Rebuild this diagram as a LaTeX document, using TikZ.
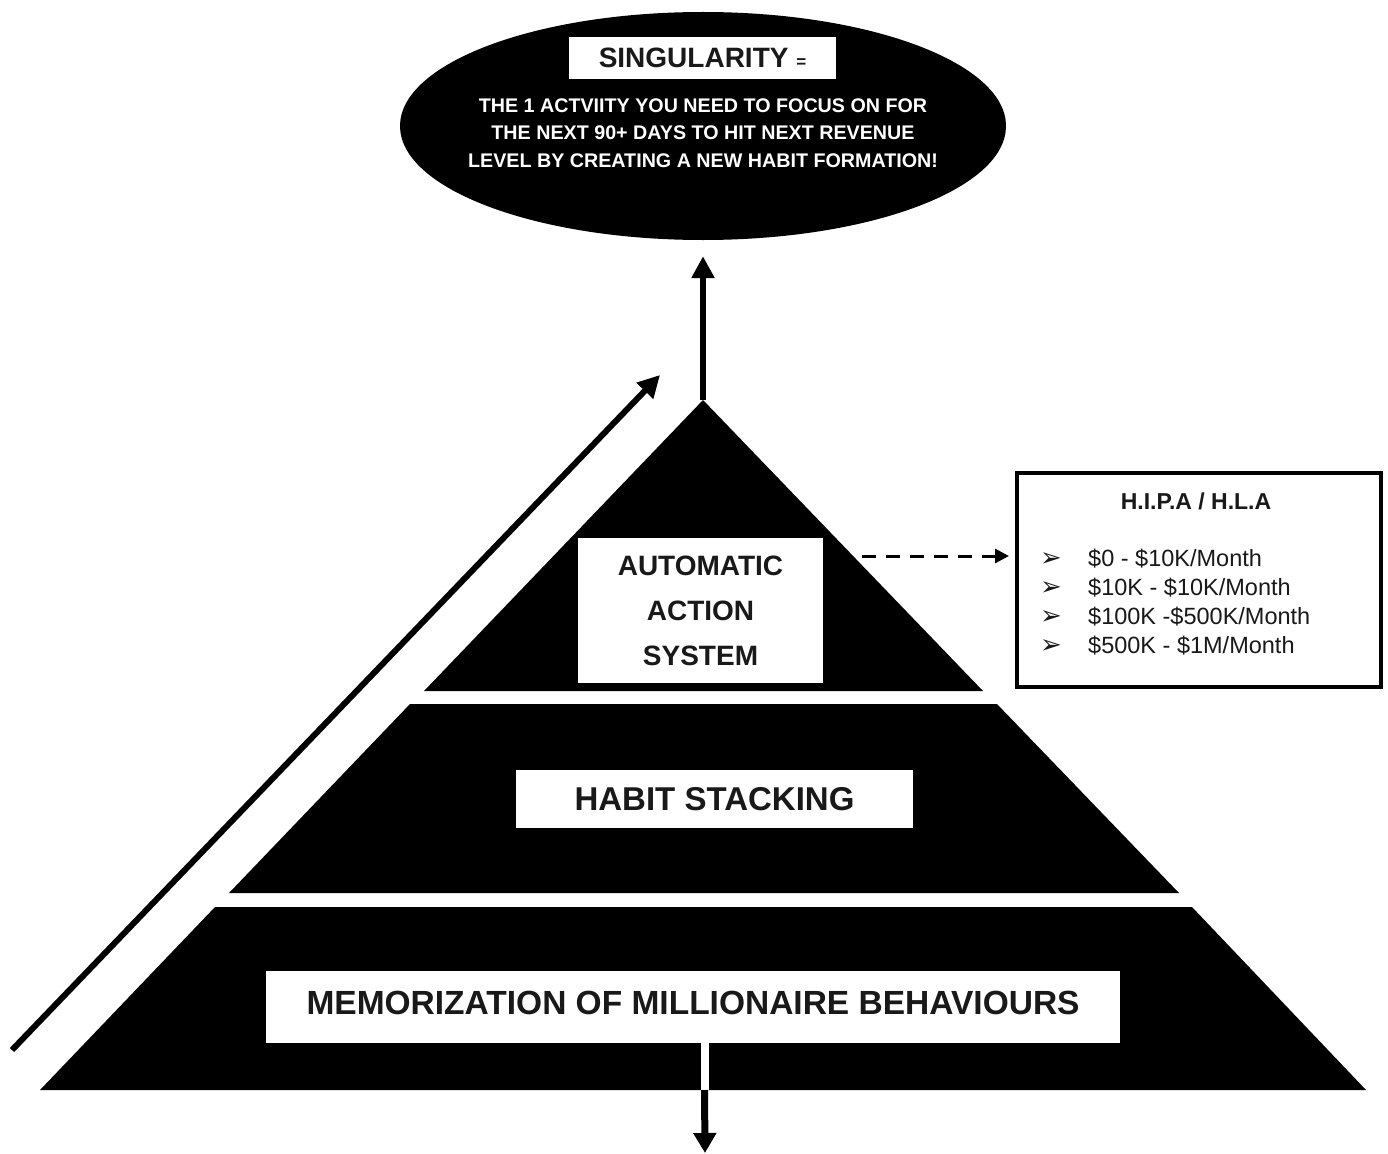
\documentclass[tikz,border=0pt]{standalone}
\usepackage{fontspec}
\setmainfont{Liberation Sans}
\newfontfamily\symfont{DejaVu Sans}
\usetikzlibrary{arrows.meta,shapes.geometric,calc}

\newcommand{\levelmark}{\makebox[48pt][l]{\symfont\fontsize{26}{26}\selectfont ➢}}

\begin{document}
\begin{tikzpicture}[x=1pt,y=-1pt,
  layerlabel/.style={fill=white, inner sep=0pt, align=center, text=black!90},
  heavyarrow/.style={line width=6pt, -{Triangle[length=22pt,width=22pt]}},
  dasharrow/.style={line width=3pt, dash pattern=on 14pt off 10pt,
                    -{Triangle[length=14pt,width=14pt]}}]
\useasboundingbox (0,0) rectangle (1388,1153);
\fill[white] (0,0) rectangle (1388,1153);

% pyramid, three black layers separated by white gaps
\coordinate (apex) at (703,400);
\fill[black] (apex) -- (983,691) -- (424,691) -- cycle;
\fill[black] (410,704) -- (997,704) -- (1179,893) -- (229,893) -- cycle;
\fill[black] (215,907) -- (1192,907) -- (1366,1090) -- (40,1090) -- cycle;

% layer labels
\node[layerlabel, minimum width=245pt, minimum height=145pt,
      font=\bfseries\fontsize{28}{45}\selectfont] (aas) at (700.5,610.5)
      {AUTOMATIC\\ACTION\\SYSTEM};
\node[layerlabel, minimum width=397pt, minimum height=58pt,
      font=\bfseries\fontsize{33}{36}\selectfont] (habit) at (714.5,799)
      {HABIT STACKING};
\node[layerlabel, minimum width=854pt, minimum height=72pt,
      font=\bfseries\fontsize{33.5}{36}\selectfont, text depth=8pt] (mem) at (693,1007)
      {MEMORIZATION OF MILLIONAIRE BEHAVIOURS};

% singularity ellipse
\node[ellipse, fill=black, minimum width=606pt, minimum height=228pt,
      inner sep=0pt] (sing) at (703,126) {};
\node[layerlabel, minimum width=267pt, minimum height=42pt,
      font=\bfseries\fontsize{28}{30}\selectfont] (singtitle) at (702.5,58)
      {SINGULARITY {\fontsize{17}{17}\selectfont =}};
\node[align=center, text=white, font=\bfseries\fontsize{19.7}{27.5}\selectfont]
      (singtext) at (703,133)
      {THE 1 ACTVIITY YOU NEED TO FOCUS ON FOR\\
       THE NEXT 90+ DAYS TO HIT NEXT REVENUE\\
       LEVEL BY CREATING A NEW HABIT FORMATION!};

% revenue levels box
\node[draw=black, line width=4pt, minimum width=364pt, minimum height=214pt,
      inner sep=0pt] (hipa) at (1199,580) {};
\node[font=\bfseries\fontsize{23}{26}\selectfont, text=black!90] (hipatitle)
      at (1196,501) {H.I.P.A / H.L.A};
\node[anchor=west, align=left, inner sep=0pt, text=black!90,
      font=\fontsize{23.5}{29}\selectfont] (levels) at (1040,602)
      {\levelmark\$0 - \$10K/Month\\
       \levelmark\$10K - \$10K/Month\\
       \levelmark\$100K -\$500K/Month\\
       \levelmark\$500K - \$1M/Month};

% connectors
\draw[heavyarrow, shorten >=16pt] (apex) -- (sing.south);
\coordinate (climbstart) at (12,1050);
\coordinate (climbend) at (660,375);
\draw[heavyarrow] (climbstart) -- (climbend);
\coordinate (dashstart) at (862,556);
\draw[dasharrow, shorten >=6pt] (dashstart) -- (hipa.west |- dashstart);
\coordinate (basegap) at (704.5,1090);
\coordinate (downend) at (705,1153);
\draw[white, line width=8pt] (mem.south -| basegap) -- (basegap);
\draw[line width=7pt, -{Triangle[length=20pt,width=22pt]}] (basegap) -- (downend);
\end{tikzpicture}
\end{document}
